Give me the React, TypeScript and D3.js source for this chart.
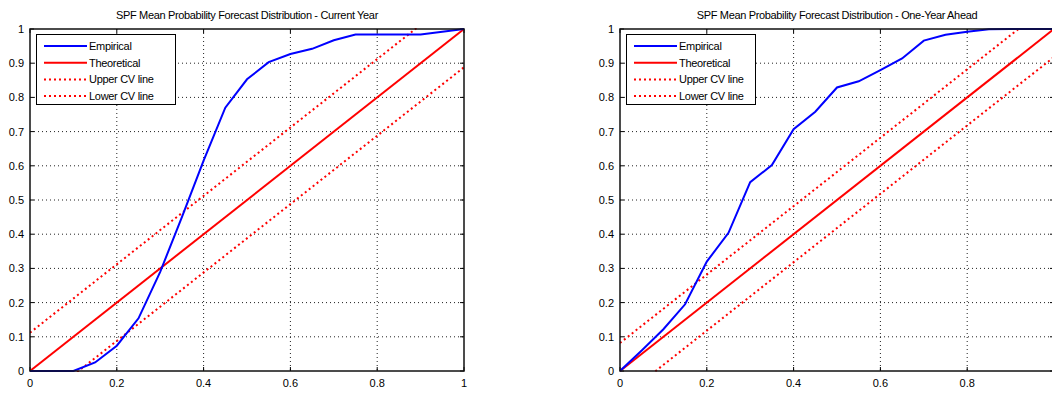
import React from 'react';
import * as d3 from 'd3';

const W = 1052;
const H = 393;

const GRID_X = [0, 0.05, 0.1, 0.15, 0.2, 0.25, 0.3, 0.35, 0.4, 0.45, 0.5, 0.55, 0.6, 0.65, 0.7, 0.75, 0.8, 0.85, 0.9, 0.95, 1];

// empirical CDFs
const EMP_CURRENT = [0, 0, 0, 0.025, 0.074, 0.154, 0.29, 0.45, 0.615, 0.77, 0.853, 0.903, 0.927, 0.942, 0.967, 0.984, 0.984, 0.984, 0.984, 0.992, 1];
const EMP_AHEAD = [0, 0.06, 0.122, 0.195, 0.32, 0.404, 0.552, 0.602, 0.707, 0.758, 0.829, 0.847, 0.88, 0.914, 0.966, 0.983, 0.992, 0.999, 1, 1, 1];

const CV_CURRENT = 0.112;
const CV_AHEAD = 0.082;

const THEORY_X = [0, 1];
const THEORY_Y = [0, 1];

const TICKS = [0, 0.2, 0.4, 0.6, 0.8, 1];
const YTICKS = [0, 0.1, 0.2, 0.3, 0.4, 0.5, 0.6, 0.7, 0.8, 0.9, 1];

const LEGEND = [
  { label: 'Empirical', color: '#0000ff', dash: null },
  { label: 'Theoretical', color: '#ff0000', dash: null },
  { label: 'Upper CV line', color: '#ff0000', dash: '2,3' },
  { label: 'Lower CV line', color: '#ff0000', dash: '2,3' },
];

const FONT = '"Liberation Sans", Arial, sans-serif';

type Pt = [number, number];

function Panel({ id, left, title, emp, cv, legendW }: { id: string; left: number; title: string; emp: number[]; cv: number; legendW: number }) {
  const x = d3.scaleLinear().domain([0, 1]).range([left, left + 434]);
  const y = d3.scaleLinear().domain([0, 1]).range([371, 29]);
  const line = d3.line<Pt>().x((d) => x(d[0])).y((d) => y(d[1]));

  const empPts: Pt[] = GRID_X.map((v, i) => [v, emp[i]]);
  const theory: Pt[] = THEORY_X.map((v, i) => [v, THEORY_Y[i]]);
  const upper: Pt[] = THEORY_X.map((v, i) => [v, THEORY_Y[i] + cv]);
  const lower: Pt[] = THEORY_X.map((v, i) => [v, THEORY_Y[i] - cv]);

  const [x0, x1] = x.range();
  const [y0, y1] = [y(1), y(0)];
  const lx = left + 7;
  const ly = 35;

  return (
    <g>
      <defs>
        <clipPath id={id}>
          <rect x={x0} y={y0 - 1} width={x1 - x0} height={y1 - y0 + 2} />
        </clipPath>
      </defs>
      <rect x={x0} y={y0} width={x1 - x0} height={y1 - y0} fill="#fff" />
      {/* grid */}
      {TICKS.slice(1, -1).map((t) => (
        <line key={'gx' + t} x1={x(t)} x2={x(t)} y1={y0} y2={y1} stroke="#222" strokeWidth={1} strokeDasharray="1,3" />
      ))}
      {YTICKS.slice(1, -1).map((t) => (
        <line key={'gy' + t} x1={x0} x2={x1} y1={y(t)} y2={y(t)} stroke="#222" strokeWidth={1} strokeDasharray="1,3" />
      ))}
      {/* inward ticks */}
      {TICKS.map((t) => (
        <g key={'tx' + t}>
          <line x1={x(t)} x2={x(t)} y1={y1} y2={y1 - 4} stroke="#000" />
          <line x1={x(t)} x2={x(t)} y1={y0} y2={y0 + 4} stroke="#000" />
          {x(t) + 3 < W && (
            <text x={x(t)} y={387} textAnchor="middle" fontSize={11} fontFamily={FONT} fill="#000">{d3.format('')(t)}</text>
          )}
        </g>
      ))}
      {YTICKS.map((t) => (
        <g key={'ty' + t}>
          <line x1={x0} x2={x0 + 4} y1={y(t)} y2={y(t)} stroke="#000" />
          <line x1={x1} x2={x1 - 4} y1={y(t)} y2={y(t)} stroke="#000" />
          <text x={x0 - 6} y={y(t) + 4} textAnchor="end" fontSize={11} fontFamily={FONT} fill="#000">{d3.format('')(t)}</text>
        </g>
      ))}
      <g clipPath={`url(#${id})`}>
        <path d={line(upper) ?? ''} fill="none" stroke="#ff0000" strokeWidth={2} strokeDasharray="2,3" />
        <path d={line(lower) ?? ''} fill="none" stroke="#ff0000" strokeWidth={2} strokeDasharray="2,3" />
        <path d={line(theory) ?? ''} fill="none" stroke="#ff0000" strokeWidth={2} />
        <path d={line(empPts) ?? ''} fill="none" stroke="#0000ff" strokeWidth={2} />
      </g>
      <rect x={x0} y={y0} width={x1 - x0} height={y1 - y0} fill="none" stroke="#111" strokeWidth={1.5} />
      {/* legend */}
      <rect x={lx - 0.5} y={ly - 0.5} width={legendW} height={70} fill="#fff" stroke="#000" strokeWidth={1} />
      {LEGEND.map((e, i) => (
        <g key={e.label}>
          <line x1={lx + 7} x2={lx + 50} y1={ly + 11 + i * 16.7} y2={ly + 11 + i * 16.7} stroke={e.color} strokeWidth={2} strokeDasharray={e.dash ?? undefined} />
          <text x={lx + 52} y={ly + 15 + i * 16.7} fontSize={11} fontFamily={FONT} letterSpacing={-0.3} fill="#000">{e.label}</text>
        </g>
      ))}
      <text x={(x0 + x1) / 2} y={19} textAnchor="middle" fontSize={11} fontFamily={FONT} letterSpacing={-0.35} fill="#000">{title}</text>
    </g>
  );
}

export default function App() {
  return (
    <svg width={W} height={H} style={{ position: 'absolute', left: 0, top: 0, background: '#fff' }}>
      <rect width={W} height={H} fill="#fff" />
      <Panel id="clipA" left={30} title="SPF Mean Probability Forecast Distribution - Current Year" emp={EMP_CURRENT} cv={CV_CURRENT} legendW={139} />
      <Panel id="clipB" left={620} title="SPF Mean Probability Forecast Distribution - One-Year Ahead" emp={EMP_AHEAD} cv={CV_AHEAD} legendW={129} />
    </svg>
  );
}
